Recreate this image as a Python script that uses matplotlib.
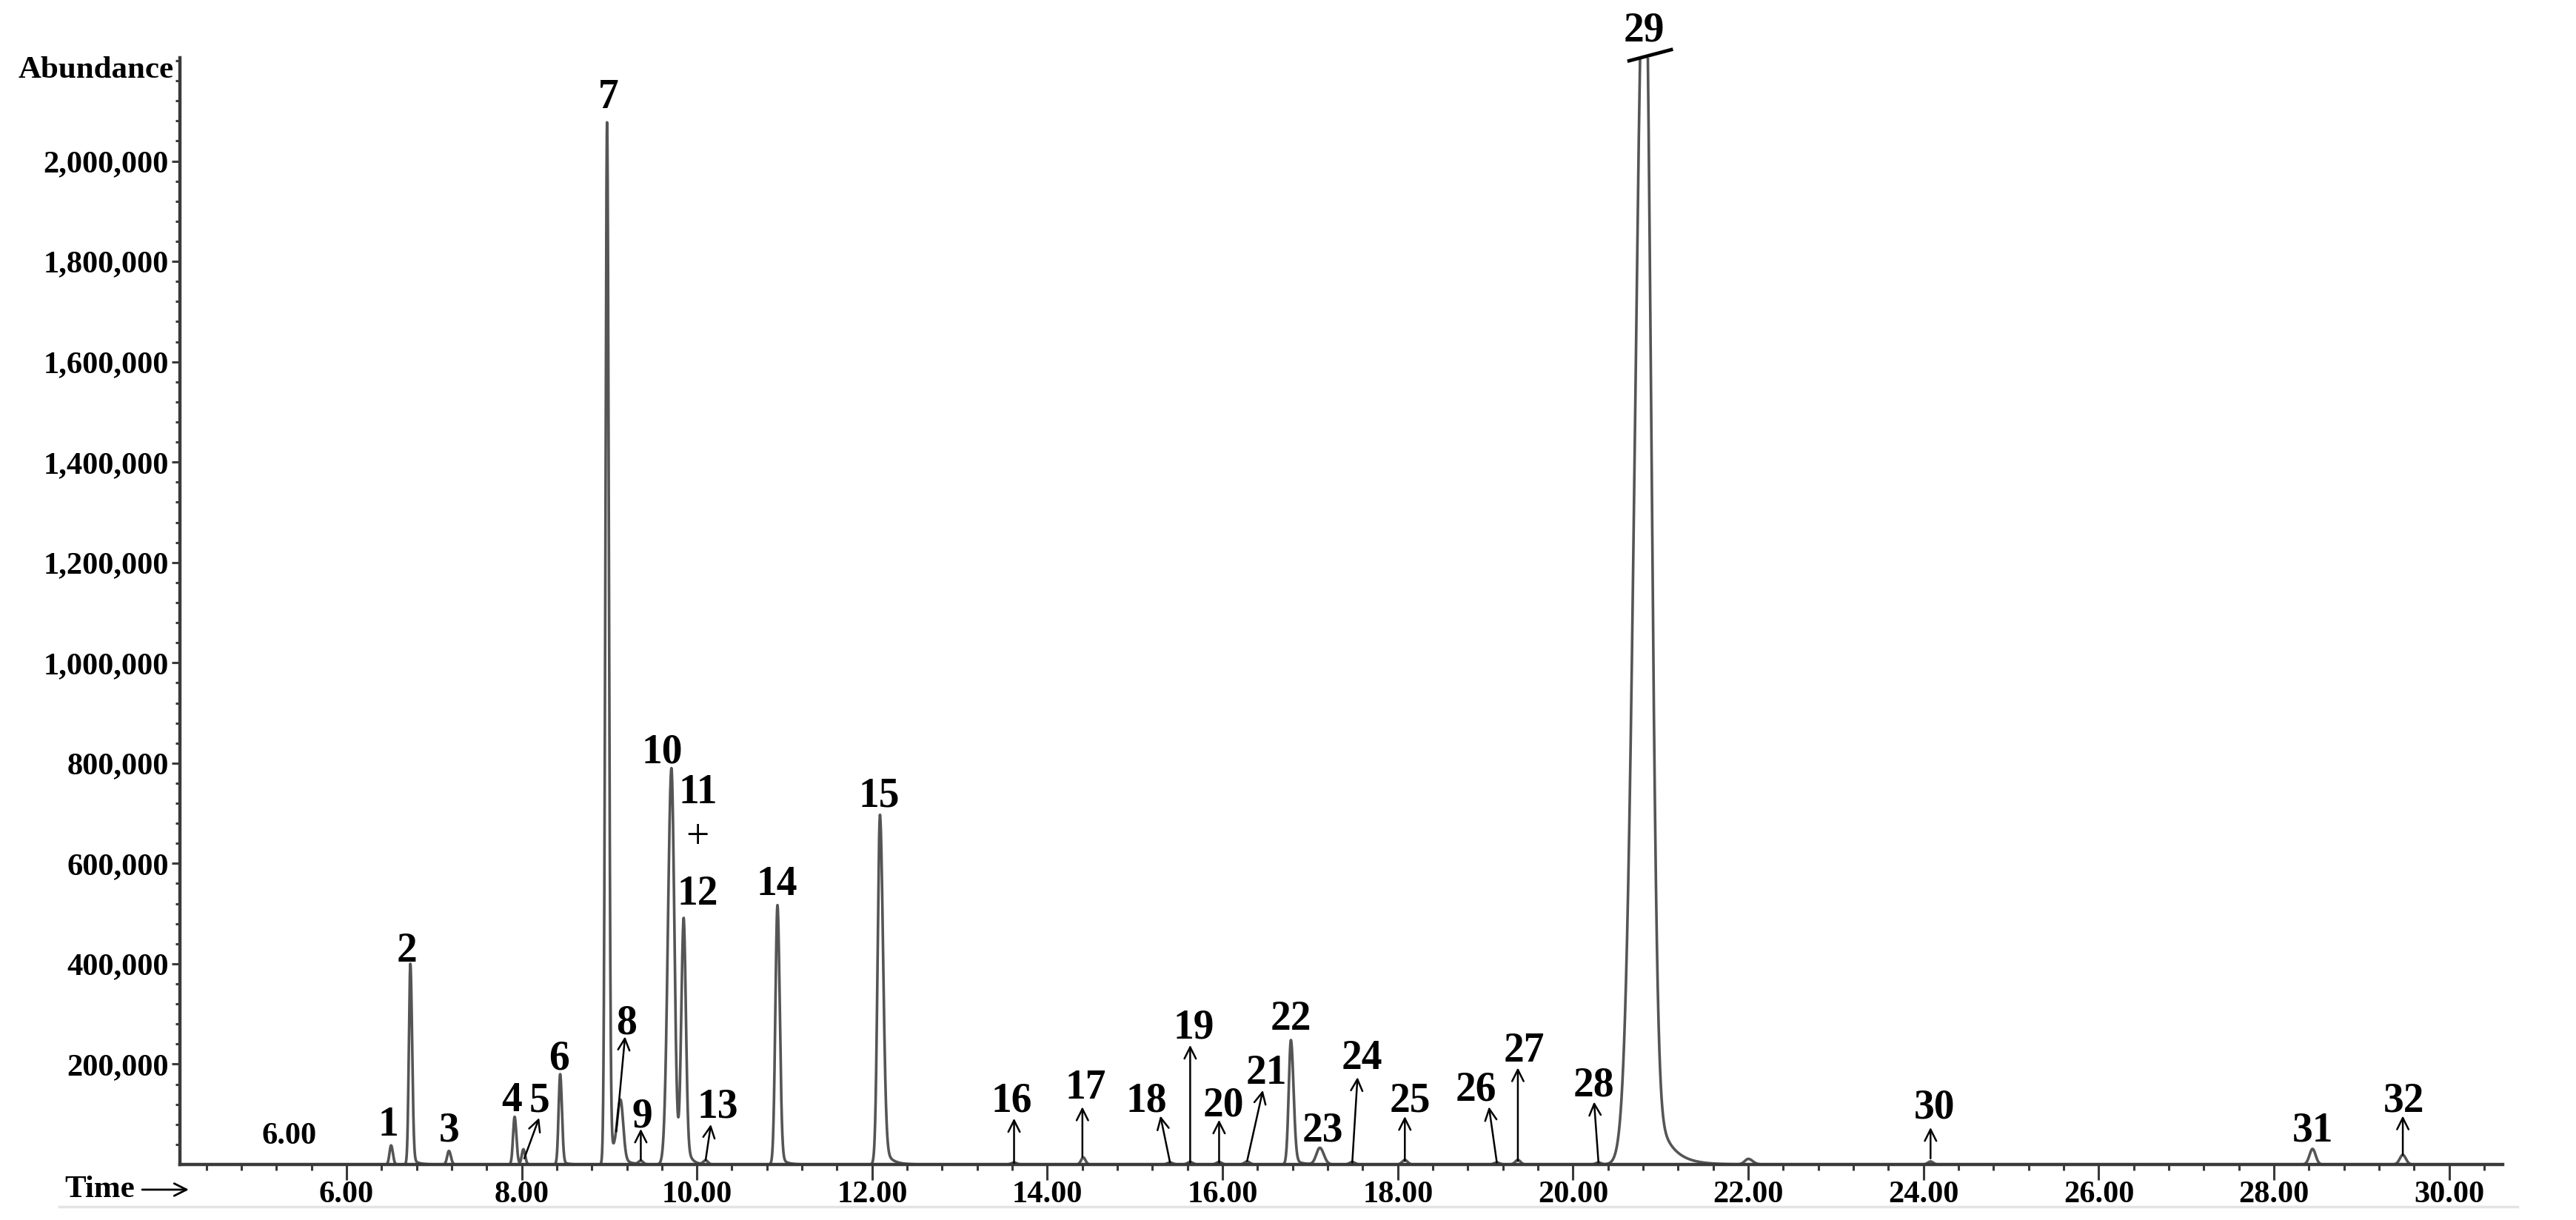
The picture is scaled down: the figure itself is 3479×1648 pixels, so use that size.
import numpy as np
import matplotlib
matplotlib.use("Agg")
import matplotlib.pyplot as plt
from matplotlib.transforms import offset_copy

plt.rcParams['font.family'] = ['Liberation Serif', 'DejaVu Serif']
plt.rcParams['font.weight'] = 'bold'

# peak table (retention time in min, abundance)
peak_rt = [6.51, 6.73, 7.17, 7.92, 8.02, 8.44, 8.975, 9.13, 9.36, 9.71, 9.85, 10.10,
           10.92, 12.09, 13.62, 14.41, 15.40, 15.63, 15.96, 16.28, 16.78, 17.11,
           17.48, 18.08, 19.13, 19.37, 20.29, 20.82, 22.00, 24.08, 28.44, 29.47]
peak_height = [38e3, 400e3, 27e3, 95e3, 30e3, 180e3, 2080e3, 120e3, 7e3, 790e3, 490e3, 8e3,
               517e3, 697e3, 4e3, 14e3, 4e3, 5e3, 5e3, 6e3, 248e3, 33e3,
               5e3, 9e3, 4e3, 9e3, 4e3, 2500e3, 11e3, 6e3, 31e3, 19e3]
# peak widths left / right of apex (min) and exponential tailing
sig_left = [.018, .017, .02, .018, .018, .018, .019, .04, .025, .04, .028, .025,
            .024, .027, .03, .025, .03, .03, .03, .03, .025, .04,
            .03, .03, .03, .03, .03, .11, .04, .03, .035, .035]
sig_right = [.02, .02, .022, .02, .02, .02, .02, .03, .025, .033, .025, .025,
             .026, .035, .03, .025, .03, .03, .03, .03, .03, .045,
             .03, .03, .03, .03, .03, .07, .05, .03, .035, .035]
tail_frac = [0, .04, 0, .03, 0, .05, .03, .1, 0, .03, .15, 0,
             .05, .08, 0, 0, 0, 0, 0, 0, .06, 0,
             0, 0, 0, 0, 0, .10, 0, 0, 0, 0]
tail_tau = [.05, .06, .05, .05, .05, .05, .08, .06, .05, .05, .05, .05,
            .06, .08, .05, .05, .05, .05, .05, .05, .08, .05,
            .05, .05, .05, .05, .05, .16, .05, .05, .05, .05]

# peak numbers (text, time, abundance at the middle of the digits)
label_text = ['1', '2', '3', '4', '5', '6', '7', '8', '9', '10', '11', '12', '13', '14', '15', '16',
              '17', '18', '19', '20', '21', '22', '23', '24', '25', '26', '27', '28', '29', '30',
              '31', '32']
label_t = [6.48, 6.69, 7.17, 7.89, 8.20, 8.43, 8.99, 9.20, 9.38, 9.60, 10.01, 10.01, 10.24, 10.91,
           12.08, 13.59, 14.44, 15.13, 15.67, 16.01, 16.50, 16.78, 17.14, 17.59, 18.14, 18.89,
           19.44, 20.24, 20.81, 24.12, 28.44, 29.48]
label_v = [86e3, 432e3, 74e3, 134e3, 133e3, 217e3, 2133e3, 289e3, 103e3, 828e3, 748e3, 546e3,
           122e3, 565e3, 742e3, 134e3, 159e3, 133e3, 280e3, 125e3, 189e3, 297e3, 75e3, 218e3,
           133e3, 155e3, 233e3, 164e3, 2267e3, 120e3, 75e3, 133e3]

# arrows: (from time, from abundance, to time, to abundance)
arrows = [(8.03, 12e3, 8.20, 93e3), (9.08, 66e3, 9.18, 255e3), (9.36, 9e3, 9.36, 71e3),
          (10.10, 9e3, 10.16, 80e3), (13.62, 3e3, 13.62, 92e3), (14.40, 15e3, 14.40, 115e3),
          (15.40, 4e3, 15.29, 97e3), (15.63, 4e3, 15.63, 238e3), (15.96, 4e3, 15.96, 89e3),
          (16.28, 7e3, 16.46, 148e3), (17.48, 4e3, 17.54, 174e3), (18.08, 7e3, 18.08, 96e3),
          (19.13, 4e3, 19.04, 115e3), (19.37, 7e3, 19.37, 193e3), (20.29, 4e3, 20.24, 125e3),
          (24.08, 12e3, 24.08, 74e3), (29.47, 19e3, 29.47, 97e3)]

x_major = [6, 8, 10, 12, 14, 16, 18, 20, 22, 24, 26, 28, 30]
y_major = [200000, 400000, 600000, 800000, 1000000, 1200000, 1400000, 1600000, 1800000, 2000000]


def peak(t, rt, h, sl, sr, f, tau):
    dt = t - rt
    left = np.exp(-0.5 * (dt / sl) ** 2)
    right = (1 - f) * np.exp(-0.5 * (dt / sr) ** 2) + f * np.exp(-np.clip(dt, 0, None) / tau)
    return h * np.where(dt < 0, left, right)


t = np.arange(4.1, 30.62, 0.002)
signal = np.zeros_like(t)
for i in range(len(peak_rt)):
    signal += peak(t, peak_rt[i], peak_height[i], sig_left[i], sig_right[i],
                   tail_frac[i], tail_tau[i])

fig = plt.figure(figsize=(34.79, 16.48), dpi=100)
ax = fig.add_axes([0.06985, 0.04551, 0.90169, 0.90716])
ax.plot(t, signal, color='#555555', lw=2.6)
ax.set_xlim(4.1, 30.61)
ax.set_ylim(0, 2.206e6)

for s in ['top', 'right']:
    ax.spines[s].set_visible(False)
for s in ['left', 'bottom']:
    ax.spines[s].set_color('#3a3a3a')
    ax.spines[s].set_linewidth(3.2)

ax.set_xticks(x_major)
ax.set_xticklabels([f"{v:.2f}" for v in x_major])
ax.set_xticks(np.round(np.arange(4.4, 30.5, 0.4), 2), minor=True)
ax.set_yticks(y_major)
ax.set_yticklabels([f"{v:,}" for v in y_major])
ax.set_yticks(np.arange(40000, 2200001, 40000), minor=True)
ax.tick_params(axis='x', which='major', length=15, width=2.2, pad=1, labelsize=30.5, color='#3a3a3a')
ax.tick_params(axis='x', which='minor', length=6, width=2.2, color='#3a3a3a')
ax.tick_params(axis='y', which='major', length=8, width=2.2, pad=3, labelsize=30.5, color='#3a3a3a')
ax.tick_params(axis='y', which='minor', length=4.5, width=2.2, color='#3a3a3a')

# put the digit baseline half a digit height below the given centre
lab_tr = offset_copy(ax.transData, fig=fig, y=-19, units='dots')
for txt, lt, lv in zip(label_text, label_t, label_v):
    ax.text(lt, lv, txt, ha='center', va='baseline', fontsize=40, fontweight='bold',
            clip_on=False, transform=lab_tr)
ax.text(10.01, 651e3, '+', ha='center', va='center', fontsize=40, fontweight='normal')
ax.text(5.35, 62e3, '6.00', ha='center', va='baseline', fontsize=30.5, fontweight='bold',
        transform=offset_copy(ax.transData, fig=fig, y=-14, units='dots'))

for x0, y0, x1, y1 in arrows:
    ax.annotate('', xy=(x1, y1), xytext=(x0, y0),
                arrowprops=dict(arrowstyle='->', lw=1.8, color='black', mutation_scale=28,
                                shrinkA=0, shrinkB=0))

# break mark on the off-scale peak 29
ax.plot([20.62, 21.14], [2.199e6, 2.223e6], color='black', lw=3.4, clip_on=False,
        solid_capstyle='butt')

fig.text(235, 1543, 'Abundance', ha='right', va='baseline', fontsize=31, fontweight='bold',
         transform=None)
fig.text(87, 31, 'Time', ha='left', va='baseline', fontsize=31, fontweight='bold', transform=None)
ax.annotate('', xy=(255, 41), xytext=(192, 41), xycoords='figure pixels',
            textcoords='figure pixels',
            arrowprops=dict(arrowstyle='->', lw=2.0, color='black', mutation_scale=30,
                            shrinkA=0, shrinkB=0))
fig.add_artist(plt.Line2D([80, 3400], [18, 18], transform=None, color='#e4e4e4', lw=2.5))

fig.savefig('out.png', dpi=100)
